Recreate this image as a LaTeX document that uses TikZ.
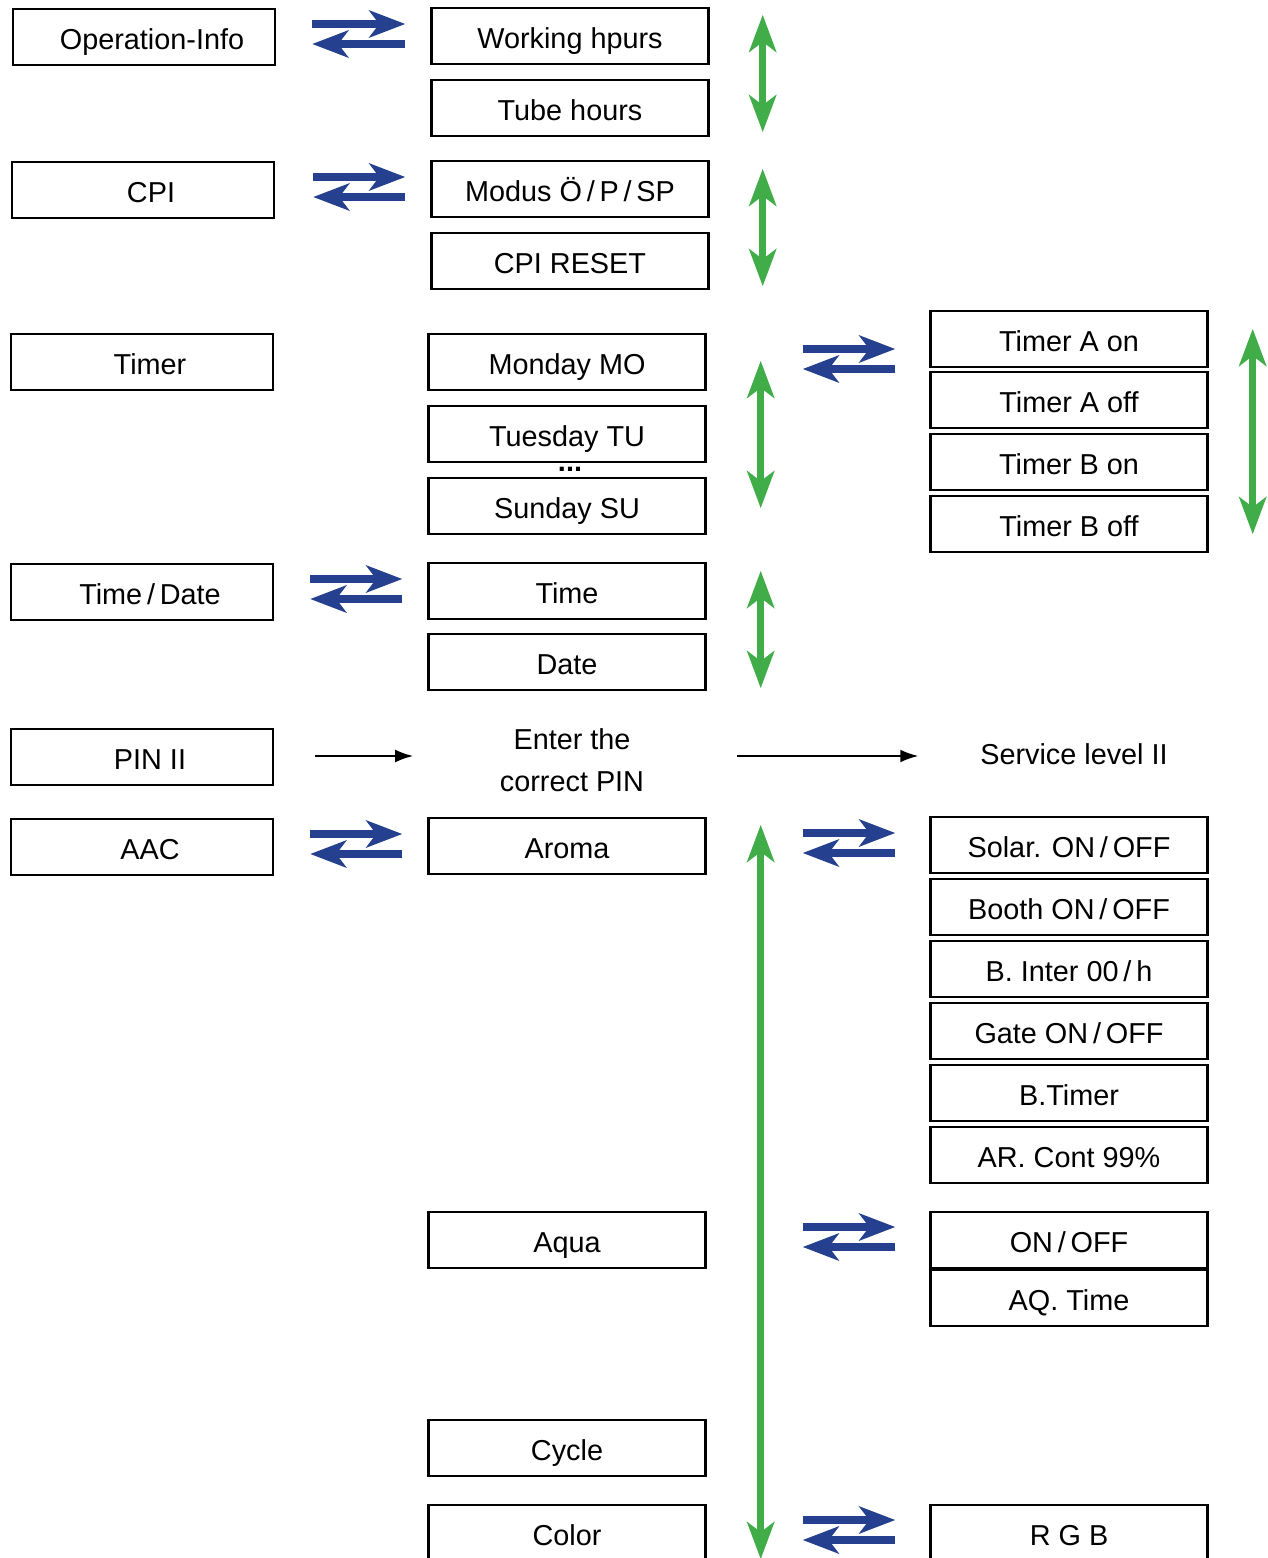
\documentclass[tikz,border=0pt]{standalone}
\usepackage{fontspec}
\setmainfont{Liberation Sans}
\usetikzlibrary{arrows.meta,calc}
\definecolor{aablue}{RGB}{37,64,143}
\definecolor{aagreen}{RGB}{64,173,73}
\begin{document}
\begin{tikzpicture}[x=0.25mm, y=-0.25mm, every node/.style={font=\fontsize{20.5}{30}\selectfont},
    box/.style={draw, line width=0.6mm, minimum width=69.25mm, minimum height=14mm, inner sep=0pt, text height=17.5pt, text depth=0pt},
    lbox/.style={box, minimum width=65.5mm, execute at begin node={\hspace*{4mm}}},
    bluearrow/.style={draw=aablue, line width=2mm, -{Stealth[length=9mm, width=6.75mm, inset=2.5mm]}},
    greenarrow/.style={draw=aagreen, line width=1.75mm, {Stealth[length=9.25mm, width=6.75mm, inset=2.5mm]}-{Stealth[length=9.25mm, width=6.75mm, inset=2.5mm]}},
    pinarrow/.style={line width=0.5mm, -{Latex[length=4.5mm, width=3.2mm]}}]
    \fill[white] (0,0) rectangle (1268,1558);
    \useasboundingbox (0,0) rectangle (1268,1558);

    % left column
    \node[lbox] (opinfo) at (144,37) {Operation-Info};
    \node[lbox] (cpi) at (143,190) {CPI};
    \node[lbox] (timer) at (142,362) {Timer};
    \node[lbox] (timedate) at (142,592) {Time\,/\,Date};
    \node[lbox] (pin) at (142,757) {PIN II};
    \node[lbox] (aac) at (142,847) {AAC};

    % middle column
    \node[box] (work) at (570,36) {Working hpurs};
    \node[box] (tube) at (570,108) {Tube hours};
    \node[box] (modus) at (570,189) {Modus Ö\,/\,P\,/\,SP};
    \node[box] (reset) at (570,261) {CPI RESET};
    \node[box] (monday) at (567,362) {Monday MO};
    \node[box] (tuesday) at (567,434) {Tuesday TU};
    \node[box] (sunday) at (567,506) {Sunday SU};
    \node[anchor=base, inner sep=0pt] (dots) at (570,471) {\textbf{...}};
    \node[box] (time) at (567,591) {Time};
    \node[box] (date) at (567,662) {Date};
    \node[align=center] (enter) at (572,760) {Enter the\\correct PIN};
    \node[box] (aroma) at (567,846) {Aroma};
    \node[box] (aqua) at (567,1240) {Aqua};
    \node[box] (cycle) at (567,1448) {Cycle};
    \node[box] (color) at (567,1533) {Color};

    % right column
    \node[box] (tAon) at (1069,339) {Timer A on};
    \node[box] (tAoff) at (1069,400) {Timer A off};
    \node[box] (tBon) at (1069,462) {Timer B on};
    \node[box] (tBoff) at (1069,524) {Timer B off};
    \node (service) at (1074,754) {Service level II};
    \node[box] (solar) at (1069,845) {Solar. ON\,/\,OFF};
    \node[box] (booth) at (1069,907) {Booth ON\,/\,OFF};
    \node[box] (binter) at (1069,969) {B. Inter 00\,/\,h};
    \node[box] (gate) at (1069,1031) {Gate ON\,/\,OFF};
    \node[box] (btimer) at (1069,1093) {B.Timer};
    \node[box] (arcont) at (1069,1155) {AR. Cont 99\%};
    \node[box] (onoff) at (1069,1240) {ON\,/\,OFF};
    \node[box] (aqtime) at (1069,1298) {AQ. Time};
    \node[box] (rgb) at (1069,1533) {R G B};

    % blue pairs
    \foreach \a/\b/\l/\r in {opinfo/work/36/25, cpi/modus/38/25, timedate/time/36/25, aac/aroma/36/25,
        monday/tAon/96/34, aroma/solar/96/34, aqua/onoff/96/34, color/rgb/96/34} {
        \draw[bluearrow] ($(\a.east)+(\l,-13)$) -- ($(\b.west |- \a.east)+(-\r,-13)$);
        \draw[bluearrow] ($(\b.west |- \a.east)+(-\r,7)$) -- ($(\a.east)+(\l,7)$);
    }

    % green scroll arrows
    \foreach \t/\b/\dx/\dt/\db in {work/tube/53/8/5, modus/reset/53/9/4, monday/sunday/54/28/27,
        time/date/54/9/3, tAon/tBoff/44/19/19, aroma/color/54/8/3} {
        \draw[greenarrow] ($(\t.north east)+(\dx,\dt)$) -- ($(\b.south east)+(\dx,-\db)$);
    }

    % PIN
    \draw[pinarrow] ($(pin.east)+(41,-1)$) -- ($(pin.east)+(139,-1)$);
    \draw[pinarrow] ($(service.west |- pin.east)+(-238,-1)$) -- ($(service.west |- pin.east)+(-57,-1)$);
\end{tikzpicture}
\end{document}
